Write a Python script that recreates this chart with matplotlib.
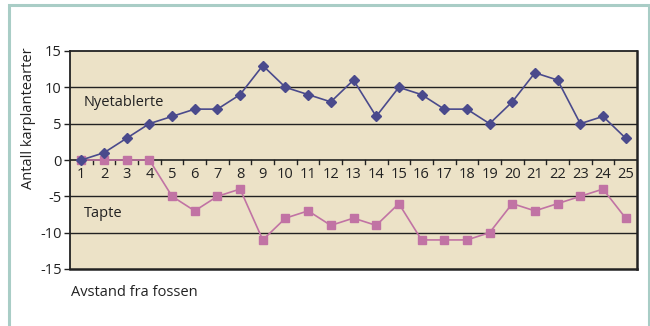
import matplotlib
matplotlib.use("Agg")
import matplotlib.pyplot as plt
from matplotlib.patches import Rectangle

plt.rcParams['font.family'] = ['Open Sans', 'DejaVu Sans']

# Distance classes along the river and species counts
distance = list(range(1, 26))
nyetablerte = [0, 1, 3, 5, 6, 7, 7, 9, 13, 10, 9, 8, 11, 6, 10, 9, 7, 7, 5, 8, 12, 11, 5, 6, 3]
tapte = [0, 0, 0, 0, -5, -7, -5, -4, -11, -8, -7, -9, -8, -9, -6, -11, -11, -11, -10, -6, -7, -6, -5, -4, -8]
y_ticks = [-15, -10, -5, 0, 5, 10, 15]

W, H = 650, 326
fig = plt.figure(figsize=(W / 100, H / 100), dpi=100)
fig.patch.set_facecolor('white')

# Light frame around the figure
fig.patches.append(Rectangle((9 / W, -0.05), (649 - 9) / W, (H - 5) / H + 0.05,
                             transform=fig.transFigure, fill=False,
                             edgecolor='#a9cdc6', linewidth=2.2))

ax = fig.add_axes([70 / W, 1 - 269 / H, (637 - 70) / W, (269 - 51) / H])
ax.set_facecolor('#ece2c7')

x = [d - 0.5 for d in distance]
ax.plot(x, nyetablerte, color='#4a4a8c', marker='D', markersize=5,
        linewidth=1.2, zorder=4)
ax.plot(x, tapte, color='#c173a4', marker='s', markersize=6,
        linewidth=1.2, zorder=3)

ax.set_xlim(0, 25)
ax.set_ylim(-15, 15)
ax.set_yticks(y_ticks)
ax.set_yticklabels([str(v) for v in y_ticks], fontsize=10.5, color='#222222')
for v in y_ticks[1:-1]:
    if v != 0:
        ax.axhline(v, color='#222222', linewidth=1.0, zorder=1)
ax.axhline(0, color='#222222', linewidth=1.2, zorder=2)

# Category ticks sit on the zero line
ax.set_xticks([])
for b in range(1, 25):
    ax.plot([b, b], [0, -0.55], color='#222222', linewidth=1.0, zorder=2,
            clip_on=False)
for d, xv in zip(distance, x):
    ax.text(xv, -2.0, str(d), ha='center', va='center', fontsize=10.5,
            color='#222222')

ax.tick_params(axis='y', length=4, width=1, color='#222222', pad=2)
for s in ax.spines.values():
    s.set_color('#222222')
    s.set_linewidth(1.3)
ax.spines['right'].set_linewidth(1.8)
ax.spines['bottom'].set_linewidth(1.8)

ax.text(0.6, 7.9, 'Nyetablerte', fontsize=10.5, color='#222222', va='center')
ax.text(0.6, -7.4, 'Tapte', fontsize=10.5, color='#222222', va='center')

fig.text(71 / W, 1 - 293 / H, 'Avstand fra fossen', fontsize=10.5,
         color='#222222', va='center')
fig.text(29 / W, 1 - 118 / H, 'Antall karplantearter', fontsize=10.5,
         color='#222222', rotation=90, ha='center', va='center')

fig.savefig('out.png', dpi=100, facecolor='white')
